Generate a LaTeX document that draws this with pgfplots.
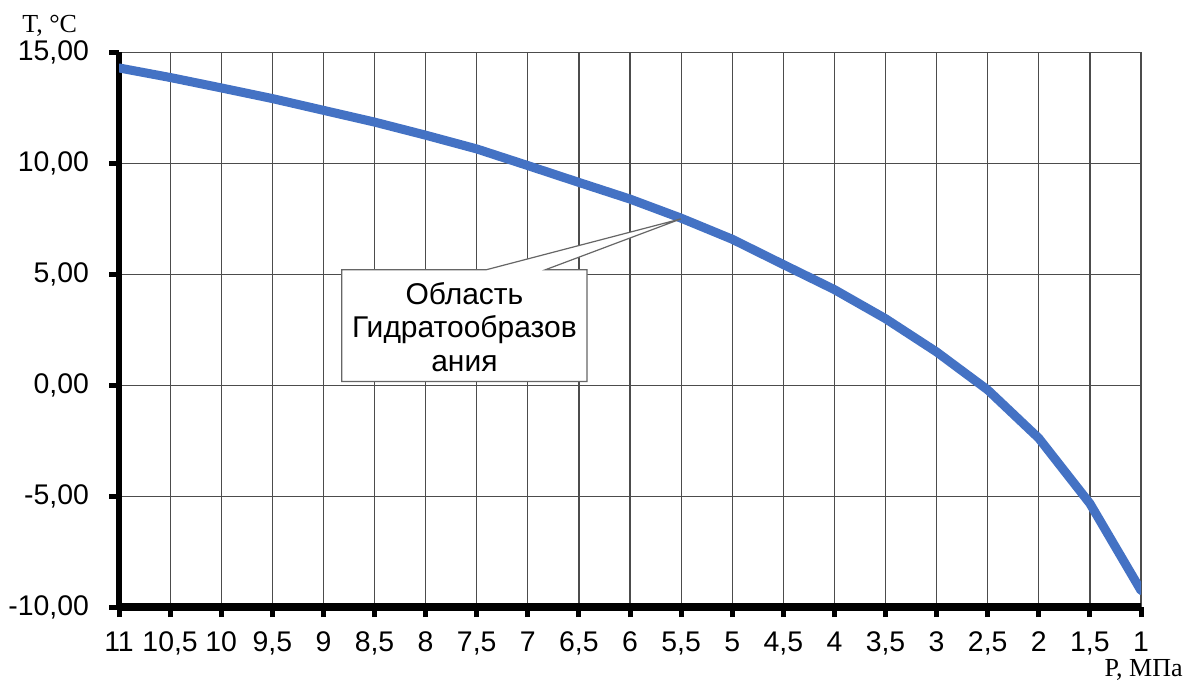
\documentclass[border=0pt]{standalone}
\usepackage{pgfplots}
\pgfplotsset{compat=1.18}
\usepackage{fontspec}
\setmainfont{Liberation Sans}
\newfontfamily\timesfont{Liberation Serif}
\definecolor{lineblue}{HTML}{4472C4}
\begin{document}
\begin{tikzpicture}
\path[use as bounding box] (-59.5pt,-39.5pt) rectangle (534.4pt,303.5pt);
\begin{axis}[
  at={(0,0)}, anchor=south west,
  scale only axis, width=510.9pt, height=277.3pt,
  xmin=0, xmax=20, ymin=-10, ymax=15,
  xtick={0,1,...,20},
  xticklabels={11,{10,5},10,{9,5},9,{8,5},8,{7,5},7,{6,5},6,{5,5},5,{4,5},4,{3,5},3,{2,5},2,{1,5},1},
  ytick={-10,-5,0,5,10,15},
  grid=major,
  major grid style={black!70, line width=0.6pt},
  axis x line=bottom, axis y line=left,
  axis line style={-, line width=3pt, black},
  x axis line style={line width=3.8pt},
  tick align=outside,
  major tick length=5pt,
  major tick style={line width=2.5pt, black},
  tick label style={font=\fontsize{14.2}{16}\selectfont},
  xticklabel style={anchor=base, yshift=-17pt},
  /pgf/number format/assume math mode=true,
  yticklabel style={xshift=-6.5pt, /pgf/number format/.cd, fixed, fixed zerofill, precision=2, use comma},
]
\addplot[lineblue, line width=4.5pt, line join=round, line cap=round] coordinates {
(0,14.30) (1,13.87) (2,13.40) (3,12.92) (4,12.39) (5,11.86) (6,11.27)
(7,10.65) (8,9.90) (9,9.14) (10,8.39) (11,7.53) (12,6.58) (13,5.44)
(14,4.31) (15,3.00) (16,1.50) (17,-0.21) (18,-2.39) (19,-5.33) (20,-9.25)
};
\draw[black!60, line width=0.6pt, fill=white]
  (axis cs:4.36,5.2) -- (axis cs:7.18,5.2) -- (axis cs:11,7.5) -- (axis cs:8.34,5.2)
  -- (axis cs:9.16,5.2) -- (axis cs:9.16,0.17) -- (axis cs:4.36,0.17) -- cycle;
\node[align=center, font=\fontsize{15}{16.6}\selectfont, inner sep=0pt]
  at (axis cs:6.76,2.62) {Область\\Гидратообразов\\ания};
\end{axis}
\node[anchor=base west, font=\timesfont\fontsize{13}{15}\selectfont, inner sep=0pt] at (-48.5pt,287.3pt) {T, °C};
\node[anchor=base east, font=\timesfont\fontsize{13}{15}\selectfont, inner sep=0pt] at (531.9pt,-34.8pt) {P, МПа};
\end{tikzpicture}
\end{document}
